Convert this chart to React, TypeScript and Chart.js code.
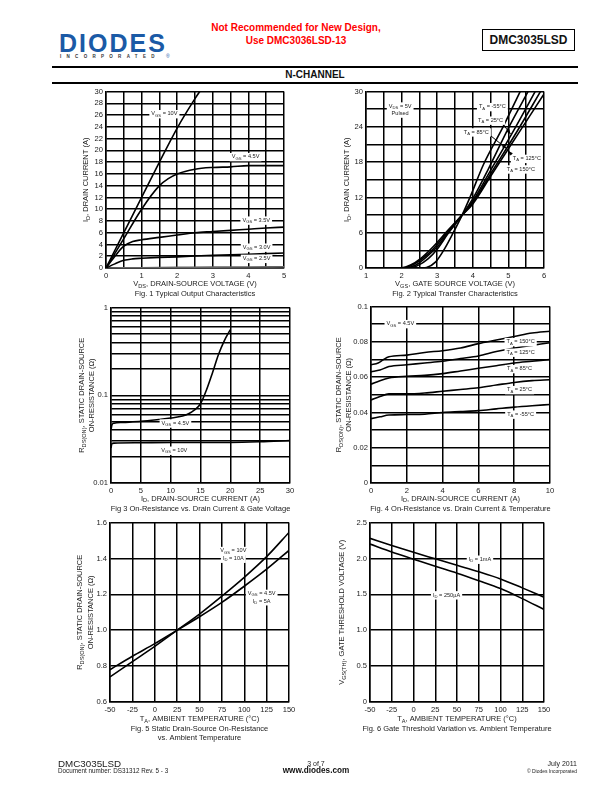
import React, { useEffect, useRef } from "react";
import { Chart, registerables } from "chart.js";

Chart.register(...registerables);

const FONT = '"Liberation Sans", Arial, Helvetica, sans-serif';

type Pt = [number, number];

// ---------- Fig. 1 Typical Output Characteristics ----------
const fig1XGrid = [0, 0.5, 1, 1.5, 2, 2.5, 3, 3.5, 4, 4.5, 5];
const fig1XLabels = ["0", "1", "2", "3", "4", "5"];
const fig1YGrid = [0, 2, 4, 6, 8, 10, 12, 14, 16, 18, 20, 22, 24, 26, 28, 30];
const fig1YLabels = ["0", "2", "4", "6", "8", "10", "12", "14", "16", "18", "20", "22", "24", "26", "28", "30"];
const fig1Vgs10: Pt[] = [[0, 0], [0.5, 6], [1, 12], [1.5, 18], [2, 23.8], [2.5, 28.8], [2.7, 30.6]];
const fig1Vgs45: Pt[] = [[0, 0], [0.5, 5], [1, 10], [1.5, 14], [1.75, 15.2], [2, 16], [2.5, 16.8], [3, 17.1], [3.5, 17.2], [4, 17.4], [4.5, 17.4], [5, 17.4]];
const fig1Vgs35: Pt[] = [[0, 0], [0.25, 2], [0.5, 3.7], [0.75, 4.5], [1, 4.8], [1.5, 5.2], [2, 5.6], [2.5, 6], [3, 6.2], [3.5, 6.4], [4, 6.6], [4.5, 6.8], [5, 6.95]];
const fig1Vgs30: Pt[] = [[0, 0], [0.25, 0.7], [0.5, 1.3], [0.75, 1.55], [1, 1.65], [1.5, 1.8], [2, 1.9], [2.5, 2.05], [3, 2.15], [3.5, 2.25], [4, 2.35], [4.5, 2.45], [5, 2.55]];
const fig1Vgs25: Pt[] = [[0, 0], [1, 0.05], [2, 0.1], [3, 0.15], [4, 0.18], [5, 0.2]];

// ---------- Fig. 2 Typical Transfer Characteristics ----------
const fig2XGrid = [1, 1.5, 2, 2.5, 3, 3.5, 4, 4.5, 5, 5.5, 6];
const fig2XLabels = ["1", "2", "3", "4", "5", "6"];
const fig2YGrid = [0, 3, 6, 9, 12, 15, 18, 21, 24, 27, 30];
const fig2YLabels = ["0", "6", "12", "18", "24", "30"];
const fig2Tm55: Pt[] = [[1, 0], [2.5, 0], [2.7, 0.1], [2.95, 1], [3.18, 3], [3.45, 6], [3.7, 9], [3.92, 12], [4.3, 17.6], [4.85, 24], [5.33, 30]];
const fig2T25: Pt[] = [[1, 0], [2.2, 0], [2.45, 0.4], [2.75, 1.6], [3, 3.2], [3.3, 5.8], [3.7, 9], [4, 11.8], [4.45, 17], [5, 23.8], [5.57, 30.2]];
const fig2T85: Pt[] = [[1, 0], [2.1, 0], [2.4, 0.5], [2.7, 1.9], [3, 3.6], [3.3, 6], [3.7, 9], [4, 11.4], [4.5, 16.6], [5.15, 23.4], [5.77, 30.2]];
const fig2T125: Pt[] = [[1, 0], [2, 0], [2.3, 0.5], [2.6, 1.7], [2.9, 3.3], [3.3, 6.2], [3.7, 9], [4, 11.1], [4.5, 16], [5.25, 23.3], [5.92, 30.2]];
const fig2T150: Pt[] = [[1, 0], [2, 0.05], [2.25, 0.5], [2.55, 1.7], [2.85, 3.4], [3.3, 6.4], [3.7, 9], [4, 10.9], [4.5, 15.6], [5.25, 22.6], [6, 29.6]];

// ---------- Fig 3 On-Resistance vs. Drain Current & Gate Voltage ----------
const fig3XGrid = [0, 5, 10, 15, 20, 25, 30];
const fig3XLabels = ["0", "5", "10", "15", "20", "25", "30"];
const fig3YGrid = [0.01, 0.02, 0.03, 0.04, 0.05, 0.06, 0.07, 0.08, 0.09, 0.1, 0.2, 0.3, 0.4, 0.5, 0.6, 0.7, 0.8, 0.9, 1];
const fig3YLabels = ["0.01", "0.1", "1"];
const fig3Vgs45: Pt[] = [[0, 0.04], [0.15, 0.046], [0.5, 0.048], [2, 0.049], [5, 0.0505], [8, 0.053], [10, 0.055], [12, 0.058], [13, 0.0615], [14, 0.068], [15, 0.08], [16, 0.115], [17, 0.18], [18, 0.29], [19, 0.42], [20, 0.56]];
const fig3Vgs10: Pt[] = [[0, 0.025], [0.15, 0.028], [0.5, 0.0285], [5, 0.0288], [10, 0.029], [15, 0.029], [20, 0.029], [25, 0.0295], [30, 0.0305]];

// ---------- Fig. 4 On-Resistance vs. Drain Current & Temperature ----------
const fig4XGrid = [0, 2, 4, 6, 8, 10];
const fig4XLabels = ["0", "2", "4", "6", "8", "10"];
const fig4YGrid = [0, 0.01, 0.02, 0.03, 0.04, 0.05, 0.06, 0.07, 0.08, 0.09, 0.1];
const fig4YLabels = ["0", "0.02", "0.04", "0.06", "0.08", "0.1"];
const fig4T150: Pt[] = [[0, 0.067], [0.4, 0.068], [0.7, 0.07], [1, 0.0715], [2, 0.0725], [3, 0.074], [4, 0.075], [5, 0.0765], [6, 0.079], [7, 0.081], [8, 0.083], [9, 0.085], [10, 0.086]];
const fig4T125: Pt[] = [[0, 0.063], [0.5, 0.064], [1, 0.066], [2, 0.067], [3, 0.068], [4, 0.069], [5, 0.0705], [6, 0.072], [7, 0.0745], [8, 0.0765], [9, 0.078], [10, 0.0795]];
const fig4T85: Pt[] = [[0, 0.056], [0.5, 0.058], [1, 0.0595], [2, 0.0605], [3, 0.061], [4, 0.062], [5, 0.0635], [6, 0.065], [7, 0.0665], [8, 0.068], [9, 0.069], [10, 0.07]];
const fig4T25: Pt[] = [[0, 0.047], [0.5, 0.049], [1, 0.0505], [2, 0.0505], [3, 0.051], [4, 0.052], [5, 0.053], [6, 0.054], [7, 0.0555], [8, 0.057], [9, 0.058], [10, 0.0585]];
const fig4Tm55: Pt[] = [[0, 0.0365], [0.5, 0.0375], [1, 0.0385], [2, 0.0388], [3, 0.039], [4, 0.04], [5, 0.0405], [6, 0.041], [7, 0.042], [8, 0.043], [9, 0.0438], [10, 0.0445]];

// ---------- Fig. 5 Static Drain-Source On-Resistance vs. Ambient Temperature ----------
const tempGrid = [-50, -25, 0, 25, 50, 75, 100, 125, 150];
const tempLabels = ["-50", "-25", "0", "25", "50", "75", "100", "125", "150"];
const fig5YGrid = [0.6, 0.8, 1.0, 1.2, 1.4, 1.6];
const fig5YLabels = ["0.6", "0.8", "1.0", "1.2", "1.4", "1.6"];
const fig5Vgs10: Pt[] = [[-50, 0.74], [-25, 0.825], [0, 0.91], [25, 1.0], [50, 1.09], [75, 1.19], [100, 1.295], [125, 1.41], [150, 1.545]];
const fig5Vgs45: Pt[] = [[-50, 0.78], [-25, 0.855], [0, 0.925], [25, 1.0], [50, 1.075], [75, 1.155], [100, 1.245], [125, 1.34], [150, 1.445]];

// ---------- Fig. 6 Gate Threshold Variation vs. Ambient Temperature ----------
const fig6YGrid = [0, 0.5, 1.0, 1.5, 2.0, 2.5];
const fig6YLabels = ["0", "0.5", "1.0", "1.5", "2.0", "2.5"];
const fig6Id1mA: Pt[] = [[-50, 2.28], [-25, 2.18], [0, 2.085], [25, 1.995], [50, 1.905], [75, 1.815], [100, 1.715], [125, 1.59], [150, 1.46]];
const fig6Id250uA: Pt[] = [[-50, 2.2], [-25, 2.09], [0, 1.99], [25, 1.89], [50, 1.795], [75, 1.69], [100, 1.58], [125, 1.44], [150, 1.29]];

// ---------- layout ----------
const PAD_L = 64;
const PAD_T = 7;
const PAD_R = 12;
const PAD_B = 42;
const TICK_SIZE = 7.6;
const TITLE_SIZE = 7.5;
const NOTE_SIZE = 5.6;

type Note = { x: number; y: number; text: string };
type Arrow = [number, number, number, number];
type Spec = {
  plot: { l: number; t: number; r: number; b: number };
  xMin: number; xMax: number; xGrid: number[]; xLabels: string[];
  yMin: number; yMax: number; yGrid: number[]; yLabels: string[]; yLog?: boolean;
  series: { data: Pt[]; color?: string }[];
  notes: Note[];
  arrows?: Arrow[];
  xTitle: string; xTitleOff: number;
  caption: string[]; capOff: number;
  yTitle: string[]; yTitleOff: number[];
};

type Seg = { t: string; sub: boolean };
function parseRich(s: string): Seg[] {
  const out: Seg[] = [];
  const re = /_\{([^}]*)\}/g;
  let last = 0;
  let m: RegExpExecArray | null;
  while ((m = re.exec(s))) {
    if (m.index > last) out.push({ t: s.slice(last, m.index), sub: false });
    out.push({ t: m[1], sub: true });
    last = re.lastIndex;
  }
  if (last < s.length) out.push({ t: s.slice(last), sub: false });
  return out;
}

function drawRich(ctx: CanvasRenderingContext2D, s: string, x: number, y: number, size: number, o: { align?: string; bg?: boolean; color?: string } = {}) {
  const segs = parseRich(s);
  const fontOf = (sub: boolean) => `${sub ? size * 0.75 : size}px ${FONT}`;
  let w = 0;
  const ws = segs.map((sg) => {
    ctx.font = fontOf(sg.sub);
    const m = ctx.measureText(sg.t).width;
    w += m;
    return m;
  });
  let x0 = o.align === "center" ? x - w / 2 : o.align === "right" ? x - w : x;
  ctx.textBaseline = "middle";
  ctx.textAlign = "left";
  if (o.bg) {
    ctx.fillStyle = "#fff";
    ctx.fillRect(x0 - 2, y - size * 0.7, w + 4, size * 1.5);
  }
  ctx.fillStyle = o.color ?? "#222";
  segs.forEach((sg, i) => {
    ctx.font = fontOf(sg.sub);
    ctx.fillText(sg.t, x0, sg.sub ? y + size * 0.3 : y);
    x0 += ws[i];
  });
}

function decorPlugin(spec: Spec) {
  return {
    id: "decor",
    afterDatasetsDraw(chart: any) {
      const { ctx, chartArea: ca, scales } = chart;
      const xs = scales.x;
      const ys = scales.y;
      ctx.save();
      for (const [x1, y1, x2, y2] of spec.arrows ?? []) {
        const px1 = xs.getPixelForValue(x1), py1 = ys.getPixelForValue(y1);
        const px2 = xs.getPixelForValue(x2), py2 = ys.getPixelForValue(y2);
        ctx.strokeStyle = "#000";
        ctx.lineWidth = 1;
        ctx.beginPath();
        ctx.moveTo(px1, py1);
        ctx.lineTo(px2, py2);
        ctx.stroke();
        const a = Math.atan2(py2 - py1, px2 - px1);
        ctx.fillStyle = "#000";
        ctx.beginPath();
        ctx.moveTo(px2, py2);
        ctx.lineTo(px2 - 5 * Math.cos(a - 0.4), py2 - 5 * Math.sin(a - 0.4));
        ctx.lineTo(px2 - 5 * Math.cos(a + 0.4), py2 - 5 * Math.sin(a + 0.4));
        ctx.closePath();
        ctx.fill();
      }
      for (const n of spec.notes) {
        drawRich(ctx, n.text, xs.getPixelForValue(n.x), ys.getPixelForValue(n.y), NOTE_SIZE, { align: "center", bg: true });
      }
      const cx = (ca.left + ca.right) / 2;
      const cy = (ca.top + ca.bottom) / 2;
      drawRich(ctx, spec.xTitle, cx, ca.bottom + spec.xTitleOff, TITLE_SIZE, { align: "center" });
      spec.caption.forEach((c, i) => drawRich(ctx, c, cx, ca.bottom + spec.capOff + i * 9.5, TITLE_SIZE, { align: "center" }));
      spec.yTitle.forEach((t, i) => {
        ctx.save();
        ctx.translate(ca.left + spec.yTitleOff[i], cy);
        ctx.rotate(-Math.PI / 2);
        drawRich(ctx, t, 0, 0, TITLE_SIZE, { align: "center" });
        ctx.restore();
      });
      ctx.restore();
    },
  };
}

function axisOpts(min: number, max: number, grid: number[], labels: string[], isX: boolean, log?: boolean) {
  return {
    type: log ? "logarithmic" : "linear",
    position: isX ? "bottom" : "left",
    min,
    max,
    afterBuildTicks: (s: any) => {
      s.ticks = grid.map((v) => ({ value: v }));
    },
    afterFit: (s: any) => {
      if (isX) s.height = PAD_B;
      else s.width = PAD_L;
    },
    grid: { color: "#000", lineWidth: 1.5, drawTicks: false },
    border: { display: true, color: "#000", width: 1.5 },
    ticks: {
      autoSkip: false,
      maxRotation: 0,
      minRotation: 0,
      padding: 3,
      color: "#222",
      font: { family: FONT, size: TICK_SIZE },
      callback: (v: any) => {
        const val = Number(v);
        const hit = labels.find((l) => Math.abs(parseFloat(l) - val) < 1e-9);
        return hit ?? "";
      },
    },
    title: { display: false },
  };
}

function boxOf(p: Spec["plot"]) {
  return { l: p.l - PAD_L, t: p.t - PAD_T, w: p.r - p.l + PAD_L + PAD_R, h: p.b - p.t + PAD_T + PAD_B };
}

function ChartBox({ spec }: { spec: Spec }) {
  const ref = useRef<HTMLCanvasElement>(null);
  const box = boxOf(spec.plot);
  useEffect(() => {
    const chart = new Chart(ref.current as HTMLCanvasElement, {
      type: "line",
      data: {
        datasets: spec.series.map((s) => ({
          data: s.data.map(([x, y]) => ({ x, y })),
          borderColor: s.color ?? "#000",
          borderWidth: 1.6,
          pointRadius: 0,
          fill: false,
          cubicInterpolationMode: "monotone",
        })),
      } as any,
      options: {
        animation: false,
        responsive: false,
        maintainAspectRatio: false,
        devicePixelRatio: 1,
        layout: { padding: { top: PAD_T, right: PAD_R, left: 0, bottom: 0 } },
        plugins: { legend: { display: false }, tooltip: { enabled: false }, title: { display: false } },
        scales: {
          x: axisOpts(spec.xMin, spec.xMax, spec.xGrid, spec.xLabels, true),
          y: axisOpts(spec.yMin, spec.yMax, spec.yGrid, spec.yLabels, false, spec.yLog),
        },
      } as any,
      plugins: [decorPlugin(spec)],
    });
    return () => chart.destroy();
  }, []);
  return (
    <canvas
      ref={ref}
      width={box.w}
      height={box.h}
      style={{ position: "absolute", left: box.l, top: box.t, width: box.w, height: box.h }}
    />
  );
}

const specs: Spec[] = [
  {
    plot: { l: 106, t: 91, r: 284, b: 268 },
    xMin: 0, xMax: 5, xGrid: fig1XGrid, xLabels: fig1XLabels,
    yMin: 0, yMax: 30, yGrid: fig1YGrid, yLabels: fig1YLabels,
    series: [{ data: fig1Vgs10 }, { data: fig1Vgs45 }, { data: fig1Vgs35 }, { data: fig1Vgs30 }, { data: fig1Vgs25, color: "#666" }],
    notes: [
      { x: 1.64, y: 26.2, text: "V_{GS} = 10V" },
      { x: 3.92, y: 18.9, text: "V_{GS} = 4.5V" },
      { x: 4.22, y: 8.1, text: "V_{GS} = 3.5V" },
      { x: 4.23, y: 3.5, text: "V_{GS} = 3.0V" },
      { x: 4.23, y: 1.6, text: "V_{GS} = 2.5V" },
    ],
    xTitle: "V_{DS}, DRAIN-SOURCE VOLTAGE (V)", xTitleOff: 16,
    caption: ["Fig. 1 Typical Output Characteristics"], capOff: 26,
    yTitle: ["I_{D}, DRAIN CURRENT (A)"], yTitleOff: [-20],
  },
  {
    plot: { l: 366, t: 91, r: 544, b: 268 },
    xMin: 1, xMax: 6, xGrid: fig2XGrid, xLabels: fig2XLabels,
    yMin: 0, yMax: 30, yGrid: fig2YGrid, yLabels: fig2YLabels,
    series: [{ data: fig2Tm55 }, { data: fig2T25 }, { data: fig2T85 }, { data: fig2T125 }, { data: fig2T150 }],
    notes: [
      { x: 1.96, y: 27.5, text: "V_{DS} = 5V" },
      { x: 1.96, y: 26.3, text: "Pulsed" },
      { x: 4.55, y: 27.4, text: "T_{A} = -55°C" },
      { x: 4.5, y: 25.1, text: "T_{A} = 25°C" },
      { x: 4.1, y: 23.1, text: "T_{A} = 85°C" },
      { x: 5.52, y: 18.6, text: "T_{A} = 125°C" },
      { x: 5.35, y: 16.8, text: "T_{A} = 150°C" },
    ],
    arrows: [
      [4.8, 24.8, 5.06, 22.8],
      [4.48, 22.6, 4.95, 20.3],
      [5.14, 18.9, 5.0, 19.9],
    ],
    xTitle: "V_{GS}, GATE SOURCE VOLTAGE (V)", xTitleOff: 16,
    caption: ["Fig. 2 Typical Transfer Characteristics"], capOff: 26,
    yTitle: ["I_{D}, DRAIN CURRENT (A)"], yTitleOff: [-19],
  },
  {
    plot: { l: 111, t: 307, r: 290, b: 483 },
    xMin: 0, xMax: 30, xGrid: fig3XGrid, xLabels: fig3XLabels,
    yMin: 0.01, yMax: 1, yGrid: fig3YGrid, yLabels: fig3YLabels, yLog: true,
    series: [{ data: fig3Vgs45 }, { data: fig3Vgs10 }],
    notes: [
      { x: 10.8, y: 0.048, text: "V_{GS} = 4.5V" },
      { x: 10.6, y: 0.0235, text: "V_{GS} = 10V" },
    ],
    xTitle: "I_{D}, DRAIN-SOURCE CURRENT (A)", xTitleOff: 15.5,
    caption: ["Fig 3 On-Resistance vs. Drain Current & Gate Voltage"], capOff: 25.5,
    yTitle: ["R_{DS(ON)}, STATIC DRAIN-SOURCE", "ON-RESISTANCE (Ω)"], yTitleOff: [-29, -19],
  },
  {
    plot: { l: 371, t: 306, r: 550, b: 483 },
    xMin: 0, xMax: 10, xGrid: fig4XGrid, xLabels: fig4XLabels,
    yMin: 0, yMax: 0.1, yGrid: fig4YGrid, yLabels: fig4YLabels,
    series: [{ data: fig4T150 }, { data: fig4T125 }, { data: fig4T85 }, { data: fig4T25 }, { data: fig4Tm55 }],
    notes: [
      { x: 1.64, y: 0.0902, text: "V_{GS} = 4.5V" },
      { x: 8.36, y: 0.08, text: "T_{A} = 150°C" },
      { x: 8.36, y: 0.074, text: "T_{A} = 125°C" },
      { x: 8.3, y: 0.0647, text: "T_{A} = 85°C" },
      { x: 8.3, y: 0.0528, text: "T_{A} = 25°C" },
      { x: 8.36, y: 0.0389, text: "T_{A} = -55°C" },
    ],
    xTitle: "I_{D}, DRAIN-SOURCE CURRENT (A)", xTitleOff: 15.5,
    caption: ["Fig. 4 On-Resistance vs. Drain Current & Temperature"], capOff: 25.5,
    yTitle: ["R_{DS(ON)}, STATIC DRAIN-SOURCE", "ON-RESISTANCE (Ω)"], yTitleOff: [-32, -22],
  },
  {
    plot: { l: 110, t: 522, r: 289, b: 702 },
    xMin: -50, xMax: 150, xGrid: tempGrid, xLabels: tempLabels,
    yMin: 0.6, yMax: 1.6, yGrid: fig5YGrid, yLabels: fig5YLabels,
    series: [{ data: fig5Vgs10 }, { data: fig5Vgs45 }],
    notes: [
      { x: 87.8, y: 1.443, text: "V_{GS} = 10V" },
      { x: 87.8, y: 1.4, text: "I_{D} = 10A" },
      { x: 119.5, y: 1.204, text: "V_{GS} = 4.5V" },
      { x: 119.5, y: 1.163, text: "I_{D} = 5A" },
    ],
    xTitle: "T_{A}, AMBIENT TEMPERATURE (°C)", xTitleOff: 17,
    caption: ["Fig. 5 Static Drain-Source On-Resistance", "vs. Ambient Temperature"], capOff: 26.5,
    yTitle: ["R_{DS(ON)}, STATIC DRAIN-SOURCE", "ON-RESISTANCE (Ω)"], yTitleOff: [-30, -19.5],
  },
  {
    plot: { l: 370, t: 522, r: 544, b: 702 },
    xMin: -50, xMax: 150, xGrid: tempGrid, xLabels: tempLabels,
    yMin: 0, yMax: 2.5, yGrid: fig6YGrid, yLabels: fig6YLabels,
    series: [{ data: fig6Id1mA }, { data: fig6Id250uA }],
    notes: [
      { x: 76.4, y: 1.986, text: "I_{D} = 1mA" },
      { x: 38, y: 1.49, text: "I_{D} = 250µA" },
    ],
    xTitle: "T_{A}, AMBIENT TEMPERATURE (°C)", xTitleOff: 17,
    caption: ["Fig. 6 Gate Threshold Variation vs. Ambient Temperature"], capOff: 26.5,
    yTitle: ["V_{GS(TH)}, GATE THRESHOLD VOLTAGE (V)"], yTitleOff: [-28],
  },
];

function Txt(props: { x: number; y: number; size: number; align?: "left" | "center" | "right"; bold?: boolean; color?: string; children: React.ReactNode; spacing?: number }) {
  const { x, y, size, align = "left", bold, color = "#111", children, spacing } = props;
  const W = 400;
  const left = align === "left" ? x : align === "center" ? x - W / 2 : x - W;
  return (
    <div
      style={{
        position: "absolute",
        left,
        top: y - size * 0.5,
        width: W,
        textAlign: align,
        fontSize: size,
        lineHeight: `${size}px`,
        fontWeight: bold ? "bold" : "normal",
        color,
        whiteSpace: "nowrap",
        letterSpacing: spacing,
        fontFamily: FONT,
      }}
    >
      {children}
    </div>
  );
}

export default function App() {
  return (
    <div style={{ position: "absolute", left: 0, top: 0, width: 612, height: 792, background: "#fff", overflow: "hidden", fontFamily: FONT }}>
      {/* logo */}
      <div style={{ position: "absolute", left: 59, top: 31, fontSize: 25, lineHeight: "25px", fontWeight: "bold", color: "#1b5aa6", letterSpacing: 2, fontFamily: FONT }}>DIODES</div>
      <Txt x={60} y={57.5} size={4.5} bold color="#333" spacing={5.3}>INCORPORATED</Txt>
      <Txt x={166} y={56} size={5} color="#1b5aa6">®</Txt>
      {/* red notice */}
      <Txt x={296} y={28} size={10} bold align="center" color="#ff0000">Not Recommended for New Design,</Txt>
      <Txt x={296} y={41} size={10} bold align="center" color="#ff0000">Use DMC3036LSD-13</Txt>
      {/* part number box */}
      <div style={{ position: "absolute", left: 482, top: 29, width: 93, height: 22, border: "1.5px solid #000", boxSizing: "border-box", display: "flex", alignItems: "center", justifyContent: "center", fontSize: 12, fontWeight: "bold", fontFamily: FONT, color: "#111" }}>DMC3035LSD</div>
      {/* section band */}
      <div style={{ position: "absolute", left: 52, top: 66, width: 526, height: 2, background: "#000" }} />
      <Txt x={315} y={75} size={10} bold align="center">N-CHANNEL</Txt>
      <div style={{ position: "absolute", left: 52, top: 81.5, width: 526, height: 2, background: "#000" }} />

      {specs.map((s, i) => (
        <ChartBox key={i} spec={s} />
      ))}

      {/* footer */}
      <Txt x={58} y={763.5} size={9.8} color="#222">DMC3035LSD</Txt>
      <Txt x={58} y={771.5} size={6.3} color="#222">Document number: DS31312 Rev. 5 - 3</Txt>
      <Txt x={316} y={763} size={7} align="center" color="#222">3 of 7</Txt>
      <Txt x={316} y={771.5} size={8.2} bold align="center" color="#111">www.diodes.com</Txt>
      <Txt x={577} y={763} size={7} align="right" color="#222">July 2011</Txt>
      <Txt x={577} y={771.5} size={5} align="right" color="#222">© Diodes Incorporated</Txt>
    </div>
  );
}
